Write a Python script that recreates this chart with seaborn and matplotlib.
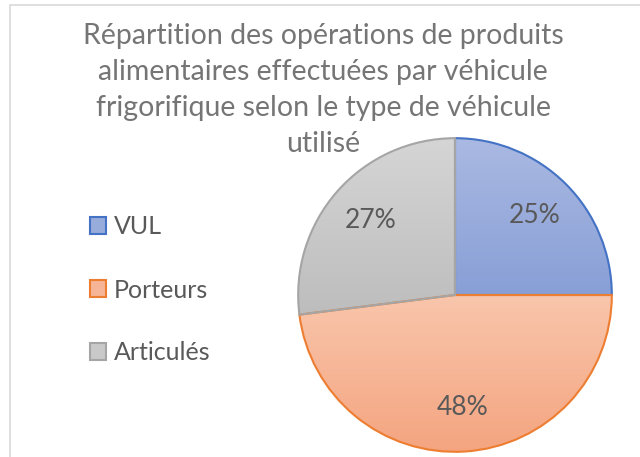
import numpy as np
import matplotlib
matplotlib.use("Agg")
import matplotlib.pyplot as plt
import seaborn as sns
from matplotlib.patches import Patch, Rectangle
from matplotlib.colors import to_rgb

categories = ["VUL", "Porteurs", "Articulés"]
values = [25, 48, 27]
title = "Répartition des opérations de produits\nalimentaires effectuées par véhicule\nfrigorifique selon le type de véhicule\nutilisé"

top_colors = ["#AAB9E2", "#F9C6AC", "#D5D5D5"]
bottom_colors = ["#889FD6", "#F4A47F", "#BDBDBD"]
edge_colors = ["#4472C4", "#ED7D31", "#A5A5A5"]
mid_colors = ["#98ACDC", "#F6B596", "#C9C9C9"]

sns.set_theme(style="white")
plt.rcParams["font.family"] = ["Lato", "DejaVu Sans"]

fig = plt.figure(figsize=(6.4, 4.57), dpi=100)
fig.patch.set_facecolor("white")

# outer chart border
fig.patches.append(Rectangle((10/640, -0.1), 1.2, 1 - 5/457 + 0.1, transform=fig.transFigure,
                             fill=False, edgecolor="#D9D9D9", linewidth=1.2))

ax = fig.add_axes([282.5/640, -10.5/457, 345/640, 345/457])
wedges, texts, autotexts = ax.pie(
    values, startangle=90, counterclock=False, radius=1,
    autopct=lambda p: f"{p:.0f}%", pctdistance=0.72,
    colors=mid_colors,
    wedgeprops=dict(linewidth=1.5),
    textprops=dict(color="#595959", fontsize=19),
)
ax.set_xlim(-1.1, 1.1)
ax.set_ylim(-1.1, 1.1)
ax.set_aspect("equal")
ax.axis("off")

for w, tc, bc, ec in zip(wedges, top_colors, bottom_colors, edge_colors):
    w.set_edgecolor(ec)
    path = w.get_path()
    verts = path.vertices
    ymin, ymax = verts[:, 1].min(), verts[:, 1].max()
    xmin, xmax = verts[:, 0].min(), verts[:, 0].max()
    n = 256
    t = np.linspace(0, 1, n)[:, None]
    c0 = np.array(to_rgb(tc)); c1 = np.array(to_rgb(bc))
    grad = (c0[None, :] * (1 - t) + c1[None, :] * t)[:, None, :]
    grad = np.repeat(grad, 2, axis=1)
    im = ax.imshow(grad, extent=[xmin, xmax, ymin, ymax], origin="upper",
                   aspect="auto", zorder=w.get_zorder() + 0.1, interpolation="bilinear")
    im.set_clip_path(w)
    w.set_facecolor("none")
    w.set_zorder(w.get_zorder() + 0.2)
for t in autotexts:
    t.set_zorder(10)
ax.set_xlim(-1.1, 1.1)
ax.set_ylim(-1.1, 1.1)

fig.text(0.505, 0.950, title, ha="center", va="top", color="#757575",
         fontsize=20.5, linespacing=1.48)

handles = [Patch(facecolor=mc, edgecolor=ec, linewidth=1.5) for mc, ec in zip(mid_colors, edge_colors)]
leg = fig.legend(handles, categories, loc="center left", bbox_to_anchor=(90/640, 1 - 290/457),
                 frameon=False, fontsize=18, labelcolor="#595959", handlelength=0.65,
                 handleheight=0.65, handletextpad=0.3, labelspacing=1.6,
                 borderpad=0, borderaxespad=0)

fig.savefig("out.png", dpi=100)
